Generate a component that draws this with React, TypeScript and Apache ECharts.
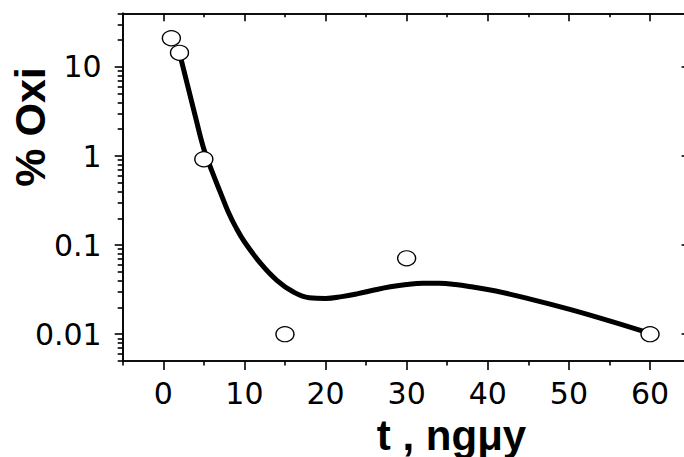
import React, { useEffect, useRef } from "react";
import * as echarts from "echarts";

// Fitted curve (time in days, percentage)
const curveX = [2, 3, 4, 5, 6, 7, 8, 9, 10, 12, 14, 16, 18, 20, 22, 24, 26, 28, 30, 32, 34, 36, 38, 41, 45, 50, 55, 60];
const curveY = [14.4, 6.21, 2.68, 1.2, 0.676, 0.398, 0.237, 0.155, 0.109, 0.0624, 0.0403, 0.0299, 0.0256, 0.0252, 0.0264, 0.0285, 0.0313, 0.034, 0.0361, 0.0372, 0.0372, 0.0361, 0.034, 0.0305, 0.0251, 0.0191, 0.0141, 0.0102];

// Measured points
const pointX = [1, 2, 5, 15, 30, 60];
const pointY = [21, 14.4, 0.92, 0.01, 0.071, 0.01];

// Axis ticks and labels
const xMajorTicks = [0, 10, 20, 30, 40, 50, 60];
const xMinorTicks = [-5, 5, 15, 25, 35, 45, 55, 65];
const yMajorTicks = [0.01, 0.1, 1, 10];
const yTickLabels = ["0.01", "0.1", "1", "10"];
const X_MIN = -5;
const X_MAX = 65;
const Y_MIN = 0.005;
const Y_MAX = 40;

const lg = (v: number) => Math.log10(v);

// minor ticks of a log scale: 2..9 times each decade, inside the range
const yMinorTicks: number[] = [];
for (let d = -3; d <= 1; d++) {
  for (let k = 2; k <= 9; k++) {
    const v = k * Math.pow(10, d);
    if (v >= Y_MIN * 0.999 && v <= Y_MAX * 1.001) yMinorTicks.push(v);
  }
}

const AXIS_COLOR = "#000";
const labelFont = "'DejaVu Sans', sans-serif";
const titleFont = "'Liberation Sans', Arial, sans-serif";

// the frame runs a few pixels past the visible right edge
const CHART_W = 691;
const VIEW_W = 684;
const VIEW_H = 457;

function xAxisDef(position: "top" | "bottom", ticks: number[], len: number, inside: boolean, labels: boolean) {
  return {
    type: "value",
    position,
    min: X_MIN,
    max: X_MAX,
    axisLine: { show: true, onZero: false, lineStyle: { color: AXIS_COLOR, width: 1.6 } },
    axisTick: { show: true, inside, length: len, customValues: ticks, lineStyle: { color: AXIS_COLOR, width: 1.6 } },
    axisLabel: labels
      ? { show: true, customValues: ticks, margin: 17, color: "#000", fontSize: 30, fontFamily: labelFont }
      : { show: false },
    splitLine: { show: false },
  };
}

function yAxisDef(position: "left" | "right", ticks: number[], len: number, inside: boolean, labels: boolean) {
  const logTicks = ticks.map(lg);
  return {
    type: "value",
    position,
    min: lg(Y_MIN),
    max: lg(Y_MAX),
    axisLine: { show: true, onZero: false, lineStyle: { color: AXIS_COLOR, width: 1.6 } },
    axisTick: { show: true, inside, length: len, customValues: logTicks, lineStyle: { color: AXIS_COLOR, width: 1.6 } },
    axisLabel: labels
      ? {
          show: true,
          customValues: logTicks,
          margin: 21,
          color: "#000",
          fontSize: 30,
          fontFamily: labelFont,
          formatter: (v: number) => {
            let best = 0;
            for (let i = 1; i < logTicks.length; i++) {
              if (Math.abs(logTicks[i] - v) < Math.abs(logTicks[best] - v)) best = i;
            }
            return yTickLabels[best];
          },
        }
      : { show: false },
    splitLine: { show: false },
  };
}

export default function App() {
  const ref = useRef<HTMLDivElement>(null);

  useEffect(() => {
    if (!ref.current) return;
    const chart = echarts.init(ref.current, null, { renderer: "svg" });
    chart.setOption({
      animation: false,
      backgroundColor: "#fff",
      grid: { left: 122.7, top: 13.3, right: 0.4, bottom: 96, containLabel: false },
      xAxis: [
        xAxisDef("bottom", xMajorTicks, 9, false, true),
        xAxisDef("bottom", xMinorTicks, 4.5, false, false),
        xAxisDef("top", xMajorTicks, 8, true, false),
        xAxisDef("top", xMinorTicks, 4, true, false),
      ],
      yAxis: [
        yAxisDef("left", yMajorTicks, 8, false, true),
        yAxisDef("left", yMinorTicks, 5, false, false),
        yAxisDef("right", yMajorTicks, 9, true, false),
        yAxisDef("right", yMinorTicks, 5, true, false),
      ],
      series: [
        {
          type: "line",
          xAxisIndex: 0,
          yAxisIndex: 0,
          data: curveX.map((x, i) => [x, lg(curveY[i])]),
          smooth: 0.4,
          showSymbol: false,
          symbol: "none",
          lineStyle: { color: "#000", width: 5, join: "round", cap: "butt" },
          z: 2,
        },
        {
          type: "scatter",
          xAxisIndex: 0,
          yAxisIndex: 0,
          data: pointX.map((x, i) => [x, lg(pointY[i])]),
          symbol: "circle",
          symbolSize: [18, 15],
          itemStyle: { color: "#fff", borderColor: "#000", borderWidth: 1.3, opacity: 1 },
          z: 3,
        },
      ],
      graphic: [
        {
          type: "text",
          x: 451.5,
          y: 435,
          style: {
            text: "t , ngμy",
            fill: "#000",
            font: `bold 42px ${titleFont}`,
            textAlign: "center",
            textVerticalAlign: "middle",
          },
        },
        {
          type: "text",
          x: 30,
          y: 127,
          rotation: Math.PI / 2,
          style: {
            text: "% Oxi",
            fill: "#000",
            font: `bold 43px ${titleFont}`,
            textAlign: "center",
            textVerticalAlign: "middle",
          },
        },
      ],
    });
    return () => chart.dispose();
  }, []);

  return (
    <div style={{ position: "fixed", left: 0, top: 0, width: VIEW_W, height: VIEW_H, overflow: "hidden", background: "#fff" }}>
      <div ref={ref} style={{ width: CHART_W, height: VIEW_H }} />
    </div>
  );
}
